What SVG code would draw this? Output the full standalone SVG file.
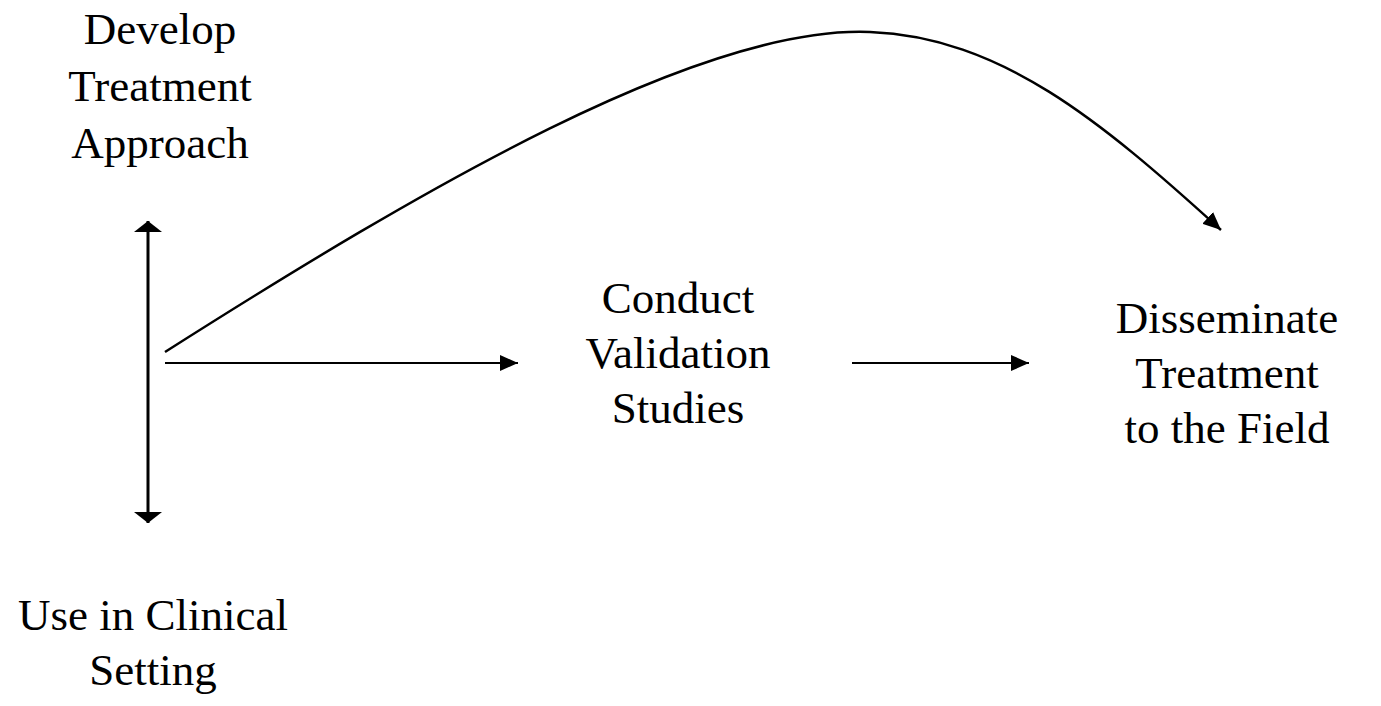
<svg xmlns="http://www.w3.org/2000/svg" width="1381" height="706" viewBox="0 0 1381 706">
<style>
text{font-family:"Liberation Serif","Times New Roman",serif;font-size:45px;fill:#000;text-anchor:middle}
.c{fill:none;stroke:#000}
</style>
<defs>
<marker id="ah" markerUnits="userSpaceOnUse" markerWidth="20" markerHeight="16" refX="18" refY="8" orient="auto">
<path d="M0,0 L18,8 L0,16 Z" fill="#000"/>
</marker>
<marker id="av" markerUnits="userSpaceOnUse" markerWidth="12" markerHeight="28" refX="11" refY="14" orient="auto-start-reverse">
<path d="M0,0 L11,14 L0,28 Z" fill="#000"/>
</marker>
</defs>
<rect width="1381" height="706" fill="#fff"/>
<g id="develop"><text x="160" y="44">Develop</text><text x="160" y="101">Treatment</text><text x="160" y="158">Approach</text></g>
<g id="conduct"><text x="678" y="313">Conduct</text><text x="678" y="368">Validation</text><text x="678" y="423">Studies</text></g>
<g id="disseminate"><text x="1227" y="333">Disseminate</text><text x="1227" y="388">Treatment</text><text x="1227" y="443">to the Field</text></g>
<g id="use"><text x="153" y="630">Use in Clinical</text><text x="153" y="685">Setting</text></g>
<g id="connectors">
<line class="c" x1="148" y1="221" x2="148" y2="523" stroke-width="3" marker-start="url(#av)" marker-end="url(#av)"/>
<line class="c" x1="165" y1="363" x2="518" y2="363" stroke-width="2" marker-end="url(#ah)"/>
<line class="c" x1="852" y1="363" x2="1029" y2="363" stroke-width="2" marker-end="url(#ah)"/>
<path class="c" d="M165,352 C420,190 700,25 870,32 C1000,37 1100,120 1221,230" stroke-width="2.5" marker-end="url(#ah)"/>
</g>
</svg>
